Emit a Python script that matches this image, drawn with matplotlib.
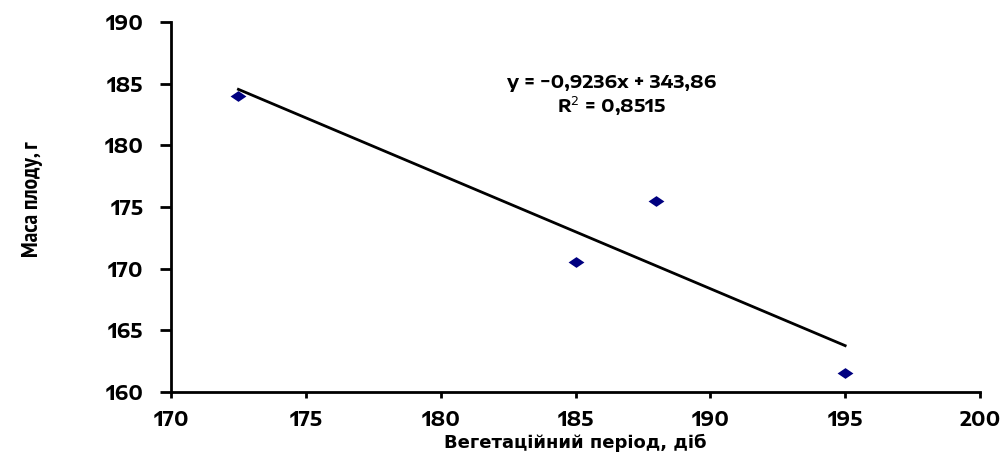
import matplotlib.pyplot as plt
import numpy as np
from matplotlib.path import Path

# vegetation period (days) vs. fruit mass (g)
period = [172.5, 185, 188, 195]
mass = [184, 170.5, 175.5, 161.5]
slope = -0.9236
intercept = 343.86
r2 = 0.8515

xticks = [170, 175, 180, 185, 190, 195, 200]
yticks = [160, 165, 170, 175, 180, 185, 190]

wide = ["Encode Sans Expanded", "DejaVu Sans"]
narrow = ["PT Sans Narrow", "DejaVu Sans"]

fig = plt.figure(figsize=(10.05, 4.55), dpi=100)
ax = fig.add_axes([171 / 1005, 1 - 392 / 455, (980 - 171) / 1005, (392 - 22) / 455])

# flat diamond marker
diamond = Path([(-1, 0), (0, 0.68), (1, 0), (0, -0.68), (-1, 0)],
               [Path.MOVETO, Path.LINETO, Path.LINETO, Path.LINETO, Path.CLOSEPOLY])
ax.scatter(period, mass, marker=diamond, s=130, c="#000080", zorder=3, lw=0)

fit_x = np.array([min(period), max(period)])
ax.plot(fit_x, slope * fit_x + intercept, c="k", lw=2, zorder=2)

eq = f"y = {slope:.4f}x + {intercept:.2f}".replace(".", ",").replace("-", "\u2212")
r2_txt = "R$^{2}$ = " + f"{r2:.4f}".replace(".", ",")
ax.text(0.545, 0.836, eq, transform=ax.transAxes, fontsize=13, fontweight="bold",
        family=wide, ha="center", va="center")
ax.text(0.545, 0.772, r2_txt, transform=ax.transAxes, fontsize=13, fontweight="bold",
        family=wide, ha="center", va="center")

ax.set_xlim(170, 200)
ax.set_ylim(160, 190)
ax.set_xticks(xticks)
ax.set_yticks(yticks)
ax.tick_params(axis="y", direction="out", length=8, width=2, pad=12)
ax.tick_params(axis="x", direction="out", length=4, width=2, pad=9)
for lab in ax.get_xticklabels() + ax.get_yticklabels():
    lab.set_family(wide)
    lab.set_fontweight("bold")
    lab.set_fontsize(14)
for s in ["top", "right"]:
    ax.spines[s].set_visible(False)
for s in ["left", "bottom"]:
    ax.spines[s].set_linewidth(2)

ax.set_xlabel("Вегетаційний період, діб", fontsize=13, fontweight="bold", family="DejaVu Sans")
ax.xaxis.set_label_coords(0.5, -0.112)
ax.set_ylabel("Маса плоду, г", fontsize=17, fontweight="bold", family=narrow)
ax.yaxis.set_label_coords(-0.158, 0.52)

fig.savefig("out.png", dpi=100)
